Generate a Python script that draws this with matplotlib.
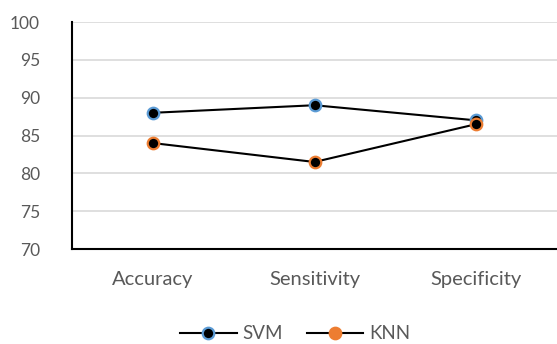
"""Line chart comparing SVM and KNN metrics."""

import matplotlib.pyplot as plt
from matplotlib.lines import Line2D

categories = ["Accuracy", "Sensitivity", "Specificity"]
svm_values = [88, 89, 87]
knn_values = [84, 81.5, 86.5]
y_ticks = [70, 75, 80, 85, 90, 95, 100]

BLUE = "#5B9BD5"
ORANGE = "#ED7D31"
TEXT = "#595959"

plt.rcParams["font.family"] = ["Lato", "DejaVu Sans"]

fig = plt.figure(figsize=(5.57, 3.44), dpi=100)
ax = fig.add_axes([72 / 557, 1 - 249 / 344, 485 / 557, 227 / 344])

x = [i + 0.5 for i in range(len(categories))]
ax.plot(x, svm_values, color="black", lw=1.5, marker="o", ms=8.3,
        mfc="black", mec=BLUE, mew=1.6, zorder=3)
ax.plot(x, knn_values, color="black", lw=1.5, marker="o", ms=8.3,
        mfc="black", mec=ORANGE, mew=1.6, zorder=3)

ax.set_xlim(0, 3)
ax.set_ylim(70, 100)
ax.set_yticks(y_ticks)
ax.set_xticks(x)
ax.set_xticklabels(categories)
ax.tick_params(length=0, labelcolor=TEXT)
ax.tick_params(axis="y", pad=23, labelsize=12.5)
ax.tick_params(axis="x", pad=16, labelsize=14.5)
ax.grid(axis="y", color="#D9D9D9", lw=1.2)
ax.set_axisbelow(True)
for s in ["top", "right"]:
    ax.spines[s].set_visible(False)
for s in ["left", "bottom"]:
    ax.spines[s].set_color("black")
    ax.spines[s].set_linewidth(1.5)

handles = [
    Line2D([], [], color="black", lw=1.5, marker="o", ms=8.3,
           mfc="black", mec=BLUE, mew=1.6),
    Line2D([], [], color="black", lw=1.5, marker="o", ms=8.3,
           mfc=ORANGE, mec=ORANGE, mew=1.6),
]
fig.legend(handles, ["SVM", "KNN"], loc="center", bbox_to_anchor=(0.53, 0.03),
           ncol=2, frameon=False, fontsize=13.5, labelcolor=TEXT,
           handlelength=3.0, handletextpad=0.3, columnspacing=1.3)

fig.savefig("out.png", dpi=100)
